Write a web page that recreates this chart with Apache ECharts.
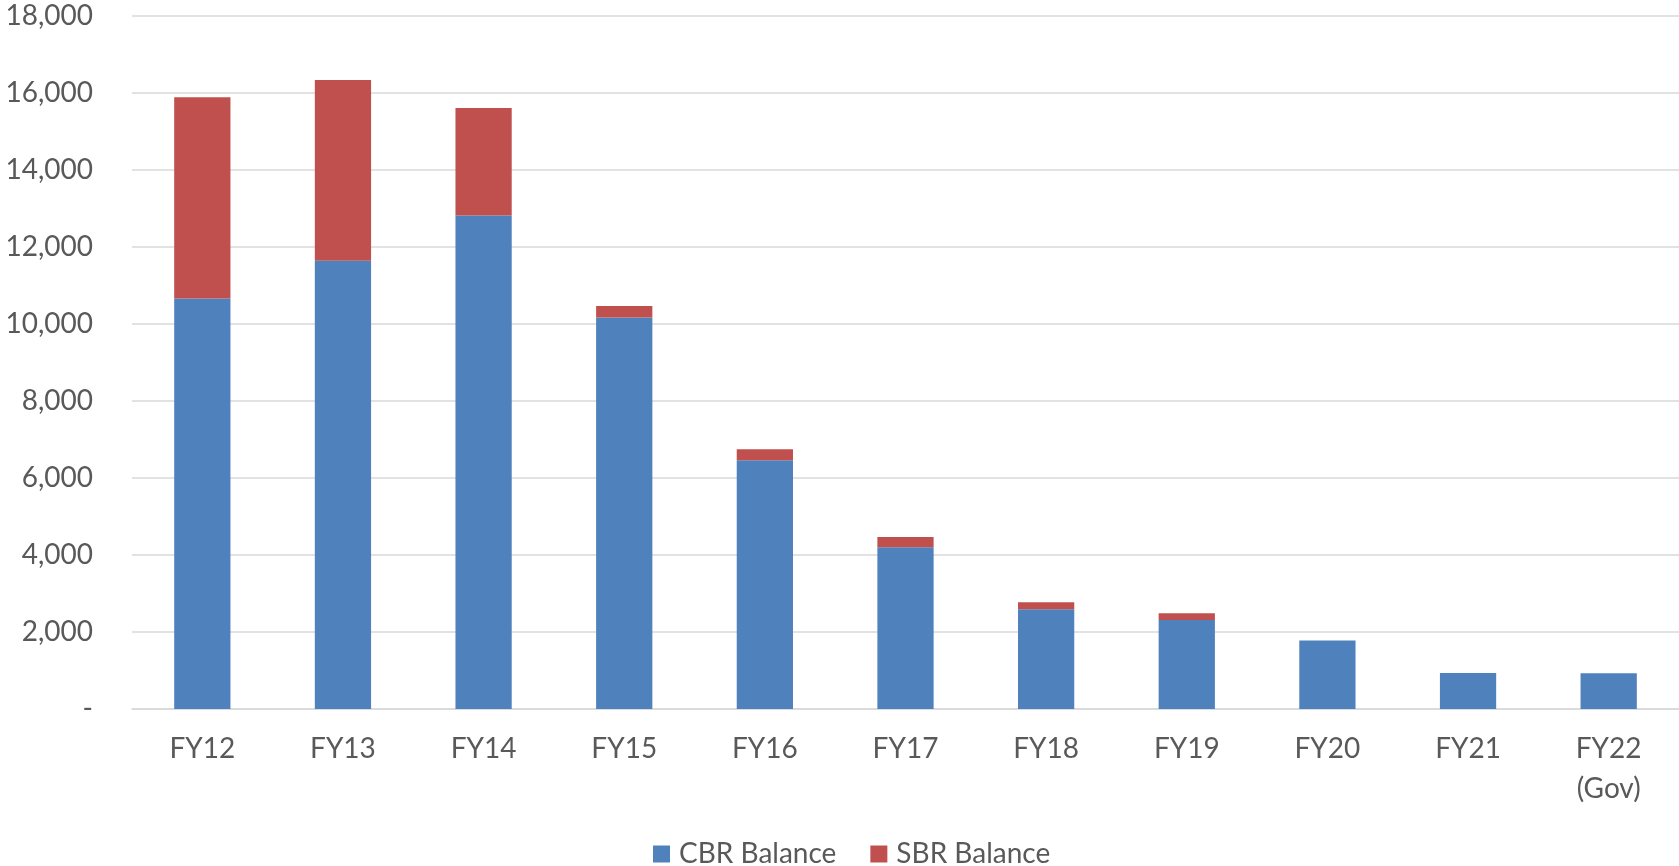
<!DOCTYPE html>
<html>
<head>
<meta charset="utf-8">
<script src="https://cdn.jsdelivr.net/npm/echarts@6/dist/echarts.min.js"></script>
<style>
html,body{margin:0;padding:0;background:#fff;}
#chart{width:1679px;height:866px;}
</style>
</head>
<body>
<div id="chart"></div>
<script>
const categories = ['FY12','FY13','FY14','FY15','FY16','FY17','FY18','FY19','FY20','FY21','FY22\n(Gov)'];
const cbrBalance = [10660, 11640, 12820, 10170, 6460, 4200, 2590, 2310, 1780, 935, 930];
const sbrBalance = [5230, 4700, 2790, 300, 290, 270, 180, 180, 0, 0, 0];
const yTicks = {min: 0, max: 18000, interval: 2000};

const chart = echarts.init(document.getElementById('chart'), null, {renderer: 'canvas'});
const textColor = '#595959';
const font = 'Lato';
chart.setOption({
  animation: false,
  backgroundColor: '#ffffff',
  grid: {left: 132, right: 0, top: 16, bottom: 157, containLabel: false},
  legend: {
    data: ['CBR Balance', 'SBR Balance'],
    left: 648, top: 835,
    icon: 'rect', itemWidth: 17, itemHeight: 17, itemGap: 34,
    textStyle: {fontFamily: font, fontSize: 28, color: textColor, padding: [0,0,0,4]}
  },
  xAxis: {
    type: 'category',
    data: categories,
    axisLine: {show: true, lineStyle: {color: '#D9D9D9', width: 1.5}},
    axisTick: {show: false},
    axisLabel: {fontFamily: font, fontSize: 28, color: textColor, margin: 20, lineHeight: 40, interval: 0}
  },
  yAxis: {
    type: 'value',
    min: yTicks.min, max: yTicks.max, interval: yTicks.interval,
    axisLine: {show: false},
    axisTick: {show: false},
    splitLine: {lineStyle: {color: '#D9D9D9', width: 1.5}},
    axisLabel: {
      fontFamily: font, fontSize: 28, color: textColor, margin: 39,
      formatter: v => v === 0 ? '-' : v.toLocaleString('en-US')
    }
  },
  series: [
    {name: 'CBR Balance', type: 'bar', stack: 'total', barWidth: '40%', data: cbrBalance,
     itemStyle: {color: '#4F81BD'}},
    {name: 'SBR Balance', type: 'bar', stack: 'total', barWidth: '40%', data: sbrBalance,
     itemStyle: {color: '#C0504D'}}
  ]
});
</script>
</body>
</html>
